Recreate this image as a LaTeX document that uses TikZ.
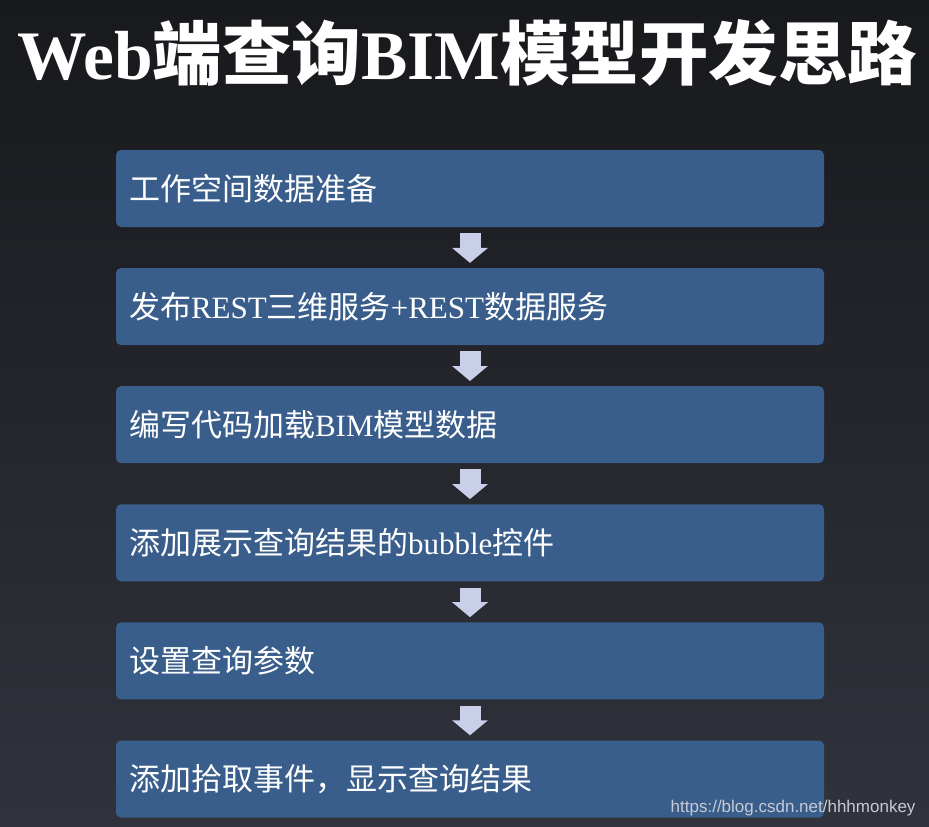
\documentclass[tikz,border=0pt]{standalone}
\usepackage{fontspec}
\setmainfont{Liberation Serif}
\newfontfamily\cjk{Noto Sans CJK SC}
\newfontfamily\wmfont{Liberation Sans}
\usetikzlibrary{positioning,arrows.meta}
\definecolor{bgtop}{HTML}{18191C}
\definecolor{bgbottom}{HTML}{30333C}
\definecolor{stepblue}{HTML}{3A5E8B}
\definecolor{arrowfill}{HTML}{C9CFE9}
\definecolor{wmgray}{HTML}{C6CAD4}

\begin{document}
\begin{tikzpicture}[x=1pt,y=-1pt,
    stepbox/.style={rectangle,rounded corners=5pt,fill=stepblue,text=white,
        minimum height=77pt,inner xsep=13pt,text width=682pt,align=left,
        font=\fontsize{31}{37}\selectfont},
    flowarrow/.style={draw=arrowfill,line width=21pt,
        -{Triangle[width=35pt,length=15pt,fill=arrowfill]},
        shorten <=6pt,shorten >=5pt},
    node distance=40.7pt]
                \useasboundingbox (0,0) rectangle (929,827);
                \shade[top color=bgtop,bottom color=bgbottom]
                    (0,0) rectangle (929,827);
                \node[text=white,font=\fontsize{69.5}{74}\selectfont\bfseries] (title) at (467.5,53)
                    {Web{\cjk 端查询}BIM{\cjk 模型开发思路}};
                \node[stepbox] (s1) at (470,188.5) {{\cjk 工作空间数据准备}};
                \node[stepbox,below=of s1] (s2) {{\cjk 发布}REST{\cjk 三维服务}+REST{\cjk 数据服务}};
                \node[stepbox,below=of s2] (s3) {{\cjk 编写代码加载}BIM{\cjk 模型数据}};
                \node[stepbox,below=of s3] (s4) {{\cjk 添加展示查询结果的}bubble{\cjk 控件}};
                \node[stepbox,below=of s4] (s5) {{\cjk 设置查询参数}};
                \node[stepbox,below=of s5] (s6) {{\cjk 添加拾取事件，显示查询结果}};
                \foreach \a/\b in {s1/s2,s2/s3,s3/s4,s4/s5,s5/s6}
                    \draw[flowarrow] (\a.south) -- (\b.north);
                \node[anchor=east,text=wmgray,font=\wmfont\fontsize{17}{20}\selectfont] (mark) at (919,808)
                    {https://blog.csdn.net/hhhmonkey};
            \end{tikzpicture}
\end{document}
